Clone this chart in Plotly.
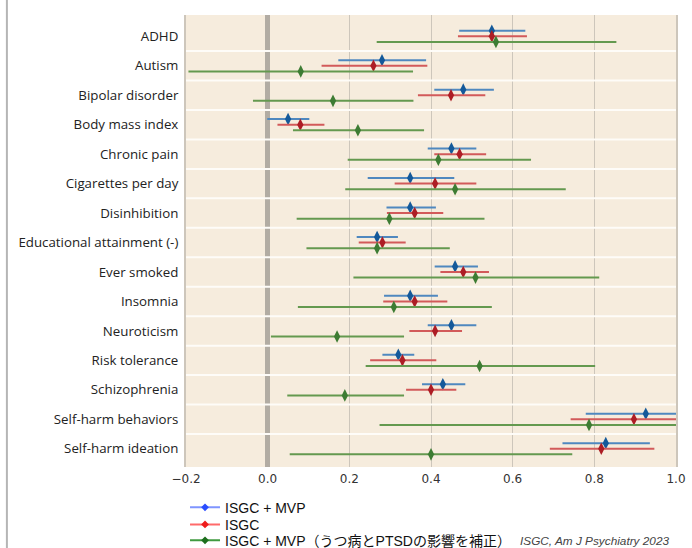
import plotly.graph_objects as go

labels = ["ADHD", "Autism", "Bipolar disorder", "Body mass index", "Chronic pain",
          "Cigarettes per day", "Disinhibition", "Educational attainment (-)",
          "Ever smoked", "Insomnia", "Neuroticism", "Risk tolerance",
          "Schizophrenia", "Self-harm behaviors", "Self-harm ideation"]

blue_est = [0.549, 0.280, 0.479, 0.050, 0.450, 0.349, 0.349, 0.268, 0.459, 0.349, 0.450, 0.320, 0.429, 0.926, 0.828]
blue_lo = [0.469, 0.173, 0.408, -0.001, 0.392, 0.245, 0.291, 0.218, 0.409, 0.285, 0.392, 0.281, 0.378, 0.779, 0.722]
blue_hi = [0.631, 0.388, 0.554, 0.102, 0.511, 0.457, 0.412, 0.319, 0.515, 0.417, 0.511, 0.359, 0.484, 1.073, 0.936]

red_est = [0.549, 0.259, 0.449, 0.080, 0.470, 0.410, 0.360, 0.281, 0.479, 0.360, 0.410, 0.330, 0.400, 0.897, 0.817]
red_lo = [0.466, 0.132, 0.368, 0.024, 0.408, 0.311, 0.292, 0.223, 0.423, 0.283, 0.347, 0.251, 0.339, 0.742, 0.691]
red_hi = [0.635, 0.391, 0.533, 0.139, 0.535, 0.511, 0.430, 0.338, 0.542, 0.440, 0.476, 0.413, 0.462, 1.052, 0.947]

green_est = [0.559, 0.081, 0.160, 0.221, 0.418, 0.459, 0.298, 0.268, 0.509, 0.309, 0.170, 0.519, 0.189, 0.787, 0.400]
green_lo = [0.267, -0.194, -0.036, 0.062, 0.196, 0.190, 0.071, 0.095, 0.210, 0.074, 0.008, 0.240, 0.048, 0.274, 0.054]
green_hi = [0.854, 0.356, 0.357, 0.383, 0.645, 0.730, 0.531, 0.446, 0.812, 0.549, 0.334, 0.802, 0.334, 1.300, 0.746]

x_ticks = [-0.2, 0.0, 0.2, 0.4, 0.6, 0.8, 1.0]
x_ticktext = ["\u22120.2", "0.0", "0.2", "0.4", "0.6", "0.8", "1.0"]

series_names = ["ISGC + MVP", "ISGC", "ISGC + MVP\uff08\u3046\u3064\u75c5\u3068PTSD\u306e\u5f71\u97ff\u3092\u88dc\u6b63\uff09"]

series = [
    (blue_est, blue_lo, blue_hi, -0.19, "#14599a", "#4f88bf", "#2a4dff", "#7f95ff"),
    (red_est, red_lo, red_hi, 0.0, "#ad1d25", "#d25a5a", "#ee1c1c", "#ff6a6a"),
    (green_est, green_lo, green_hi, 0.19, "#3d7c33", "#64994f", "#1d6e1d", "#3f9a3f"),
]

fig = go.Figure()
idx = list(range(len(labels)))
for (est, lo, hi, off, mcol, lcol, legm, legl), name in zip(series, series_names):
    fig.add_trace(go.Scatter(
        x=est, y=[i + off for i in idx], mode="markers",
        marker=dict(symbol="diamond-tall", size=9, color=mcol),
        error_x=dict(type="data", symmetric=False,
                     array=[h - e for h, e in zip(hi, est)],
                     arrayminus=[e - l for e, l in zip(est, lo)],
                     color=lcol, thickness=2, width=0),
        showlegend=False, name=name))

legend_ids = ["legend", "legend2", "legend3"]
for (est, lo, hi, off, mcol, lcol, legm, legl), name, lid in zip(series, series_names, legend_ids):
    fig.add_trace(go.Scatter(
        x=[None], y=[None], mode="lines+markers", name=name, legend=lid,
        line=dict(color=legl, width=2),
        marker=dict(symbol="diamond", size=6, color=legm)))

leg_font = dict(size=14, family="Liberation Sans, Noto Sans CJK JP, sans-serif", color="#111")
leg_common = dict(x=-0.002, xanchor="left", yanchor="middle", font=leg_font,
                  bgcolor="rgba(0,0,0,0)", itemwidth=30)

fig.update_layout(
    width=692, height=548,
    margin=dict(l=186, r=16, t=15, b=81, autoexpand=False),
    paper_bgcolor="white",
    plot_bgcolor="#f6ecdd",
    font=dict(family="Liberation Sans, Arial, sans-serif", color="#222"),
    legend=dict(y=-0.090, **leg_common),
    legend2=dict(y=-0.128, **leg_common),
    legend3=dict(y=-0.163, **leg_common),
    xaxis=dict(range=[x_ticks[0], x_ticks[-1]], tickmode="array", tickvals=x_ticks, ticktext=x_ticktext,
               showgrid=True, gridcolor="#cdc6bb", gridwidth=1,
               zeroline=True, zerolinecolor="#b2aca3", zerolinewidth=5,
               showline=False, ticks="", ticklabelstandoff=3,
               tickfont=dict(family="DejaVu Sans", size=12, color="#333")),
    yaxis=dict(range=[14.62, -0.724], tickmode="array", tickvals=idx, ticktext=labels,
               showgrid=False, zeroline=False,
               showline=True, linecolor="#cdc6bb", linewidth=2, mirror=True,
               ticks="", ticklabelstandoff=3,
               tickfont=dict(family="Open Sans, Noto Sans, sans-serif", size=13.3, color="#222")),
)

for i in idx[:-1]:
    fig.add_shape(type="line", xref="x", yref="y", x0=x_ticks[0], x1=x_ticks[-1],
                  y0=i + 0.5, y1=i + 0.5,
                  line=dict(color="#fefcf8", width=2), layer="above")

fig.add_shape(type="line", xref="paper", yref="paper", x0=-0.3655, x1=-0.3655, y0=-0.19, y1=1.04,
              line=dict(color="#b5b5b5", width=2))

fig.add_annotation(text="<i>ISGC, Am J Psychiatry 2023</i>", xref="paper", yref="paper",
                   x=0.99, y=-0.163, xanchor="right", yanchor="middle", showarrow=False,
                   font=dict(family="Liberation Sans, Arial, sans-serif", size=11.8, color="#444"))

fig.write_html("out.html", config={"displayModeBar": False},
               post_script="document.body.style.margin='0px';document.body.style.overflow='hidden';")
